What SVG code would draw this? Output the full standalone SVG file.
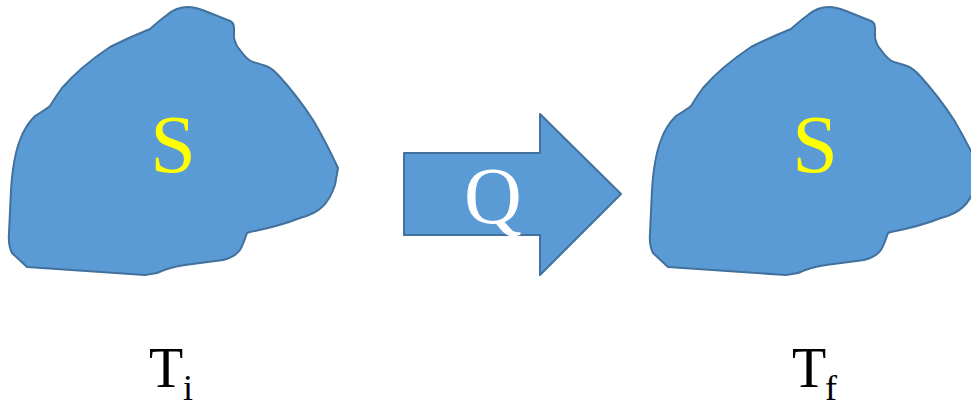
<svg xmlns="http://www.w3.org/2000/svg" width="971" height="405" viewBox="0 0 971 405">
<style>
.blob{fill:#5B9BD5;stroke:#41719C;stroke-width:2;stroke-linejoin:round}
.t{font-family:"Liberation Serif","Times New Roman",serif}
.s{fill:#FFFF00;font-size:82px;text-anchor:middle}
.q{fill:#FFFFFF;font-size:80px;text-anchor:middle}
.lab{fill:#000000;font-size:56px}
.sub{font-size:36px}
</style>
<defs>
<path id="blobShape" d="M27,267 L12,253 Q8,245 9,233 L11,190 Q13,158 20,140 Q25,126 35,116 Q45,110 50,106 Q56,96 62,88 Q80,67 110,47 Q130,37 150,29 Q160,20 167,15 Q176,7 188,7 Q195,7 205,11 L230,21 Q234,23 234,28 L234,38 Q236,46 240,50 Q247,60 253,62 Q260,64 266,66 Q272,68 280,77 Q298,97 313,120 Q325,140 338,168 L335,185 Q330,200 322,207 Q315,214 300,218 Q280,226 250,232 L247,233 Q243,245 240,250 Q235,257 223,260 L185,265 Q170,267 157,273 L145,275 Z"/>
</defs>
<g id="system-initial">
<use href="#blobShape" class="blob"/>
<text class="t s" x="173" y="172">S</text>
</g>
<g id="system-final">
<use href="#blobShape" class="blob" transform="translate(641,0)"/>
<text class="t s" x="815" y="172">S</text>
</g>
<g id="connectors">
<g id="heat-arrow">
<path class="blob" d="M404,153 L540,153 L540,114 L621,194 L540,275 L540,235 L404,235 Z"/>
<text class="t q" x="493" y="223">Q</text>
</g>
</g>
<g id="label-initial">
<text class="t lab" x="149" y="387">T<tspan class="sub" x="183" y="400">i</tspan></text>
</g>
<g id="label-final">
<text class="t lab" x="792" y="387">T<tspan class="sub" x="825" y="400">f</tspan></text>
</g>
</svg>
